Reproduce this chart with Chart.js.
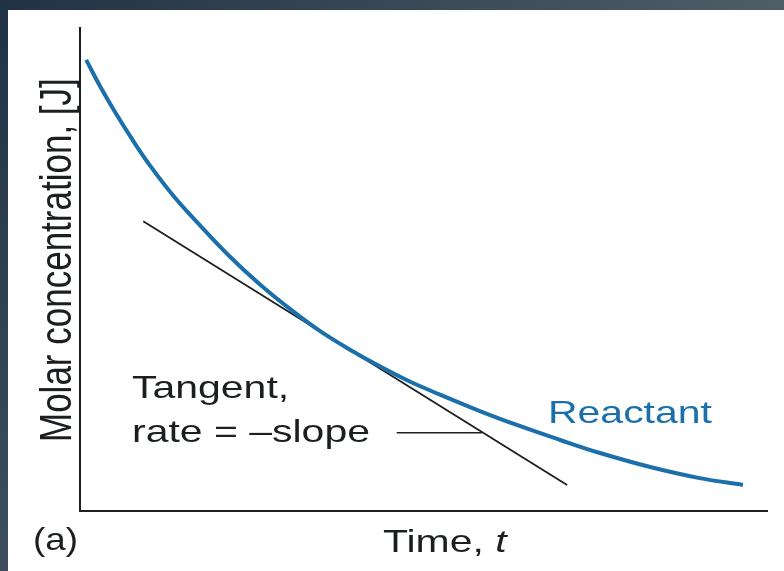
<!DOCTYPE html>
<html>
<head>
<meta charset="utf-8">
<script src="https://cdn.jsdelivr.net/npm/chart.js@4"></script>
<style>
  body { margin: 0; background: #fff; }
  canvas { display: block; }
</style>
</head>
<body>
<canvas id="rateChart" width="784" height="571"></canvas>
<script>
// reactant concentration vs time (arbitrary units 0..10)
const timeVals = [0.09, 0.29, 0.51, 0.73, 1.02, 1.38, 1.75, 2.18, 2.62, 3.06, 3.49, 3.93, 4.37, 4.80, 5.24, 5.82, 6.40, 6.99, 7.57, 8.30, 9.02, 9.65];
const concVals = [9.34, 8.80, 8.26, 7.76, 7.15, 6.49, 5.91, 5.27, 4.69, 4.18, 3.73, 3.34, 2.99, 2.68, 2.41, 2.07, 1.76, 1.47, 1.20, 0.91, 0.68, 0.54];

// tangent line and the little pointer line to its label
const tangentT = [0.92, 7.09];
const tangentC = [6.00, 0.54];
const pointerT = [4.61, 5.85];
const pointerC = [1.62, 1.62];

const blue = '#1b6fab';
const ink = '#1c1f22';

function toPoints(xs, ys) {
    return xs.map((x, i) => ({ x: x, y: ys[i] }));
}

// stretched text, like the squashed scan in the original
function stretchText(ctx, text, x, y, size, color, opts) {
    opts = opts || {};
    ctx.save();
    ctx.fillStyle = color;
    ctx.font = (opts.italic ? 'italic ' : '') + size + 'px "Liberation Sans", Arial, sans-serif';
    ctx.textBaseline = 'alphabetic';
    ctx.translate(x, y);
    ctx.scale(opts.sx || 1.28, 1);
    if (opts.rotate) ctx.rotate(-Math.PI / 2);
    ctx.textAlign = opts.align || 'left';
    ctx.fillText(text, 0, 0);
    ctx.restore();
}

const backdrop = {
    id: 'backdrop',
    beforeDraw(chart) {
        const c = chart.ctx;
        const g = c.createLinearGradient(0, 0, 500, 450);
        g.addColorStop(0, '#213245');
        g.addColorStop(1, '#56646b');
        c.save();
        c.fillStyle = g;
        c.fillRect(0, 0, chart.width, chart.height);
        c.fillStyle = '#ffffff';
        c.fillRect(8, 10, chart.width - 8, chart.height - 10);
        c.restore();
    }
};

const labels = {
    id: 'labels',
    afterDraw(chart) {
        const c = chart.ctx;
        stretchText(c, 'Tangent,', 132, 398, 32, ink);
        stretchText(c, 'rate = \u2013slope', 132, 442, 32, ink);
        stretchText(c, 'Reactant', 548, 423, 32, blue);
        stretchText(c, '(a)', 33, 550, 32, ink, { sx: 1.15 });
        stretchText(c, 'Time, ', 383, 552, 32, ink);
        c.save();
        c.font = '32px "Liberation Sans", Arial, sans-serif';
        const w = c.measureText('Time, ').width * 1.28;
        c.restore();
        stretchText(c, 't', 383 + w, 552, 32, ink, { italic: true });
        stretchText(c, 'Molar concentration, [J]', 71, 442, 35, ink, { rotate: true, sx: 1.25 });
    }
};

new Chart(document.getElementById('rateChart'), {
    type: 'scatter',
    data: {
        datasets: [
            {
                label: 'Reactant',
                data: toPoints(timeVals, concVals),
                showLine: true,
                borderColor: blue,
                borderWidth: 4,
                pointRadius: 0,
                tension: 0.4
            },
            {
                label: 'Tangent',
                data: toPoints(tangentT, tangentC),
                showLine: true,
                borderColor: ink,
                borderWidth: 1.8,
                pointRadius: 0
            },
            {
                label: 'pointer',
                data: toPoints(pointerT, pointerC),
                showLine: true,
                borderColor: ink,
                borderWidth: 1.5,
                pointRadius: 0
            }
        ]
    },
    options: {
        responsive: false,
        animation: false,
        layout: { padding: { left: 72, right: 17, top: 28, bottom: 52 } },
        plugins: { legend: { display: false }, tooltip: { enabled: false } },
        scales: {
            x: {
                type: 'linear', min: 0, max: 10,
                ticks: { display: false },
                grid: { display: false },
                border: { display: true, color: ink, width: 2 }
            },
            y: {
                type: 'linear', min: 0, max: 10,
                ticks: { display: false },
                grid: { display: false },
                border: { display: true, color: ink, width: 2 }
            }
        }
    },
    plugins: [backdrop, labels]
});
</script>
</body>
</html>
